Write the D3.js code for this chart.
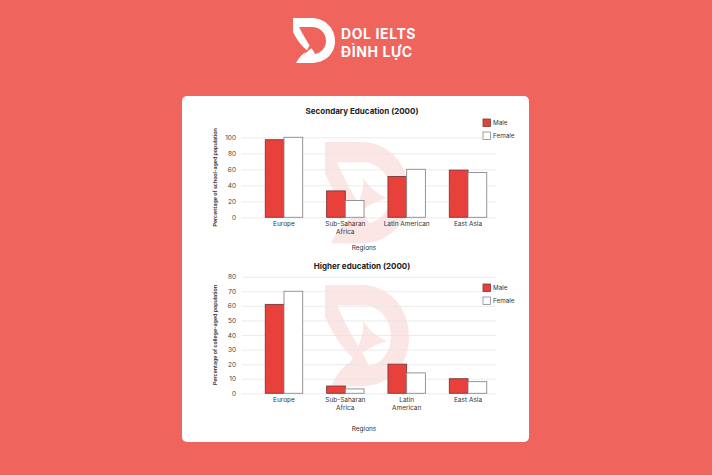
<!DOCTYPE html>
<html>
<head>
<meta charset="utf-8">
<script src="https://cdn.jsdelivr.net/npm/d3@7"></script>
<style>
  html, body { margin: 0; padding: 0; background: #f0645e; }
  svg { display: block; font-family: Inter, "Open Sans", sans-serif; }
</style>
</head>
<body>
<svg width="712" height="475"></svg>
<script>
// data
var regions = ["Europe", "Sub-Saharan Africa", "Latin American", "East Asia"];
var genders = ["Male", "Female"];

var secMale = [97, 33, 51, 59];
var secFemale = [100, 21, 60, 56];
var secTicks = [0, 20, 40, 60, 80, 100];
var secLabels = [["Europe"], ["Sub-Saharan", "Africa"], ["Latin American"], ["East Asia"]];

var higMale = [61, 5, 20, 10];
var higFemale = [70, 3, 14, 8];
var higTicks = [0, 10, 20, 30, 40, 50, 60, 70, 80];
var higLabels = [["Europe"], ["Sub-Saharan", "Africa"], ["Latin", "American"], ["East Asia"]];

var svg = d3.select("svg"),
    width = +svg.attr("width"),
    height = +svg.attr("height");

var RED = "#e8403a";

// rough DOL mark in a 42x45 box: D bowl with a hole, plus a swoosh inside
var markOuter = "M0,0 H18 C32,0 42,10 42,23 C42,36 32,45 18,45 H3 C6,39 10,35 15,33 C9,29 4,22 0,14 Z " +
                "M6,9 H19 C27,9 33,15 33,23 C33,30 28,35 22,36 C20,31 14,25 6,9 Z";
var markSwoosh = "M9,40 C14,32 22,27 31,25 C26,23 22,20 19,16 C20,23 15,31 9,40 Z";

// header logo
var logo = svg.append("g").attr("transform", "translate(293,18)");
logo.append("path").attr("d", markOuter).attr("fill", "#fff").attr("fill-rule", "evenodd");
logo.append("path").attr("d", markSwoosh).attr("fill", "#f0645e");
svg.append("text").attr("x", 341).attr("y", 39)
    .attr("fill", "#fff").attr("font-size", 14).attr("font-weight", 700)
    .attr("letter-spacing", 0.6).text("DOL IELTS");
svg.append("text").attr("x", 341).attr("y", 57)
    .attr("fill", "#fff").attr("font-size", 14).attr("font-weight", 700)
    .attr("letter-spacing", 0.6).text("ĐÌNH LỰC");

// card
svg.append("rect")
    .attr("x", 182).attr("y", 96).attr("width", 347).attr("height", 346)
    .attr("rx", 5).attr("fill", "#fff");

function drawChart(cfg) {
  var g = svg.append("g");
  var rows = regions.map(function(r, i) {
    return {region: r, lines: cfg.labels[i], vals: [cfg.male[i], cfg.female[i]]};
  });

  var x = d3.scaleBand().domain(regions)
      .range([253, 499]).paddingInner(0.39).paddingOuter(0.2);
  var xs = d3.scaleBand().domain(genders).range([0, x.bandwidth()]);
  var y = d3.scaleLinear().domain([0, d3.max(cfg.ticks)]).range([cfg.y0, cfg.y1]);

  // watermark
  var wm = g.append("g")
      .attr("transform", "translate(" + cfg.wm[0] + "," + cfg.wm[1] + ") scale(2,2.25)");
  wm.append("path").attr("d", markOuter).attr("fill", "#fce6e5").attr("fill-rule", "evenodd");
  wm.append("path").attr("d", markSwoosh).attr("fill", "#fce6e5");

  // grid + ticks
  var yAxis = d3.axisLeft(y).tickValues(cfg.ticks).tickSize(-(496 - 242)).tickPadding(6);
  var ax = g.append("g").attr("transform", "translate(242,0)").call(yAxis);
  ax.select(".domain").remove();
  ax.selectAll(".tick line").attr("stroke", "#e6e6e6").attr("stroke-width", 0.8);
  ax.selectAll(".tick text").attr("fill", "#444").attr("font-size", 6.5)
      .attr("font-family", "Inter, sans-serif");

  // bars
  var grp = g.selectAll(".grp").data(rows).enter().append("g")
      .attr("transform", function(d) { return "translate(" + x(d.region) + ",0)"; });
  grp.selectAll("rect").data(function(d) {
      return d.vals.map(function(v, k) { return {g: genders[k], v: v}; });
    }).enter().append("rect")
      .attr("x", function(d) { return xs(d.g); })
      .attr("width", xs.bandwidth())
      .attr("y", function(d) { return y(d.v); })
      .attr("height", function(d) { return y(0) - y(d.v); })
      .attr("fill", function(d) { return d.g === "Male" ? RED : "#fff"; })
      .attr("stroke", function(d) { return d.g === "Male" ? "#7c3a38" : "#8a8a8a"; })
      .attr("stroke-width", 0.9);

  // x labels
  grp.append("text")
      .attr("x", x.bandwidth() / 2)
      .attr("y", cfg.y0 + 9)
      .attr("text-anchor", "middle")
      .attr("fill", "#333").attr("font-size", 6.5)
      .selectAll("tspan").data(function(d) { return d.lines; }).enter().append("tspan")
      .attr("x", x.bandwidth() / 2)
      .attr("dy", function(d, i) { return i ? 7.5 : 0; })
      .text(function(d) { return d; });

  // title
  g.append("text").attr("x", 362).attr("y", cfg.titleY)
      .attr("text-anchor", "middle").attr("font-size", 8).attr("font-weight", 700)
      .attr("fill", "#222").text(cfg.title);

  // axis titles
  g.append("text").attr("x", 364).attr("y", cfg.regY)
      .attr("text-anchor", "middle").attr("font-size", 6.5).attr("fill", "#333")
      .text("Regions");
  g.append("text")
      .attr("transform", "translate(217," + ((cfg.y0 + cfg.y1) / 2) + ") rotate(-90)")
      .attr("text-anchor", "middle").attr("font-size", 5.3).attr("font-weight", 600)
      .attr("fill", "#333").text(cfg.yTitle);

  // legend
  var lg = g.selectAll(".lg").data(genders).enter().append("g")
      .attr("transform", function(d, i) { return "translate(483," + (cfg.legY + i * 13) + ")"; });
  lg.append("rect").attr("width", 7.5).attr("height", 7.5)
      .attr("fill", function(d) { return d === "Male" ? RED : "#fff"; })
      .attr("stroke", function(d) { return d === "Male" ? "#7c3a38" : "#8a8a8a"; })
      .attr("stroke-width", 0.8);
  lg.append("text").attr("x", 10).attr("y", 6.2)
      .attr("font-size", 6.3).attr("fill", "#333").text(function(d) { return d; });
}

drawChart({
  title: "Secondary Education (2000)", titleY: 114,
  yTitle: "Percentage of school-aged population",
  male: secMale, female: secFemale, ticks: secTicks, labels: secLabels,
  y0: 217.3, y1: 137.3, regY: 250, legY: 119, wm: [325, 142]
});

drawChart({
  title: "Higher education (2000)", titleY: 269,
  yTitle: "Percentage of college-aged population",
  male: higMale, female: higFemale, ticks: higTicks, labels: higLabels,
  y0: 393.3, y1: 276.7, regY: 431, legY: 284, wm: [325, 285]
});
</script>
</body>
</html>
